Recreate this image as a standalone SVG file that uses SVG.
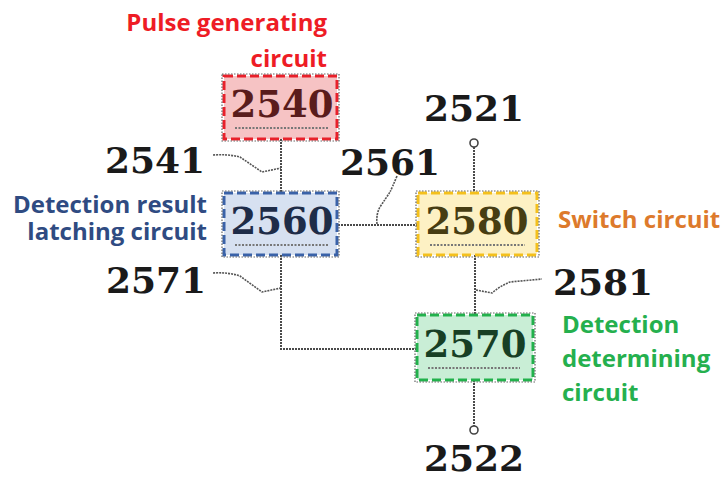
<svg xmlns="http://www.w3.org/2000/svg" width="727" height="478" viewBox="0 0 727 478">
<style>
.num{font-family:"DejaVu Serif",serif;font-weight:bold;font-size:36px;text-anchor:middle;fill:#1a1a1a}
.bnum{font-family:"DejaVu Serif",serif;font-weight:bold;font-size:37px;text-anchor:middle}
.lbl{font-family:"Open Sans",Lato,sans-serif;font-weight:bold;font-size:24px}
.wire{fill:none;stroke:#4a4a4a;stroke-width:2;stroke-dasharray:2 1}
.lead{fill:none;stroke:#555;stroke-width:1.6;stroke-dasharray:2 1}
.frame{fill:none;stroke:#666;stroke-width:1.2;stroke-dasharray:1.5 1.5}
.ul{stroke:#777;stroke-width:2;stroke-dasharray:2 1.5}
</style>
<rect width="727" height="478" fill="#fff"/>
<g id="connectors">
<line class="wire" x1="281" y1="139" x2="281" y2="193"/>
<line class="wire" x1="338" y1="225" x2="418" y2="225"/>
<polyline class="wire" points="281,255 281,349 417,349"/>
<line class="wire" x1="474" y1="147" x2="474" y2="193"/>
<line class="wire" x1="475" y1="255" x2="475" y2="315"/>
<line class="wire" x1="474" y1="380" x2="474" y2="426"/>
<circle cx="474" cy="143" r="4" fill="#fff" stroke="#444" stroke-width="1.6"/>
<circle cx="474" cy="430" r="4" fill="#fff" stroke="#444" stroke-width="1.6"/>
<path class="lead" d="M213,155 Q228,154 240,157 L262,172 L281,168"/>
<path class="lead" d="M397,176 Q392,188 390,192 Q386,198 380,207 Q376,214 377,224"/>
<path class="lead" d="M213,273 Q228,272 240,276 L262,292 L281,288"/>
<path class="lead" d="M476,290 L492,293 Q500,286 510,282 L542,279"/>
</g>
<g id="n2540">
<rect x="224" y="76" width="113" height="63" fill="#f6c3c4" stroke="#e8202a" stroke-width="3" stroke-dasharray="9 4"/>
<rect class="frame" x="222" y="74" width="117" height="67"/>
<text class="bnum" x="282" y="117" fill="#5a1c1c">2540</text>
<line class="ul" x1="235" y1="128" x2="328" y2="128"/>
</g>
<g id="n2560">
<rect x="224" y="193" width="113" height="62" fill="#d7e1f1" stroke="#3a62a8" stroke-width="3" stroke-dasharray="9 4"/>
<rect class="frame" x="222" y="191" width="117" height="66"/>
<text class="bnum" x="282" y="234" fill="#1e2c48">2560</text>
<line class="ul" x1="235" y1="245" x2="328" y2="245"/>
</g>
<g id="n2580">
<rect x="418" y="193" width="119" height="62" fill="#fdf1c4" stroke="#f4c01c" stroke-width="3" stroke-dasharray="9 4"/>
<rect class="frame" x="416" y="191" width="123" height="66"/>
<text class="bnum" x="477" y="234" fill="#473d12">2580</text>
<line class="ul" x1="430" y1="245" x2="525" y2="245"/>
</g>
<g id="n2570">
<rect x="417" y="315" width="116" height="65" fill="#c9eed6" stroke="#22b14c" stroke-width="3" stroke-dasharray="9 4"/>
<rect class="frame" x="415" y="313" width="120" height="69"/>
<text class="bnum" x="475" y="357" fill="#173f25">2570</text>
<line class="ul" x1="428" y1="368" x2="520" y2="368"/>
</g>
<g id="labels">
<text class="num" x="155" y="173">2541</text>
<text class="num" x="390" y="175">2561</text>
<text class="num" x="156" y="293">2571</text>
<text class="num" x="603" y="295">2581</text>
<text class="num" x="474" y="121">2521</text>
<text class="num" x="474" y="471">2522</text>
<text class="lbl" x="327" y="31" fill="#ee1c25" text-anchor="end">Pulse generating</text>
<text class="lbl" x="327" y="67" fill="#ee1c25" text-anchor="end">circuit</text>
<text class="lbl" x="207" y="213" fill="#2f4b82" text-anchor="end">Detection result</text>
<text class="lbl" x="207" y="240" fill="#2f4b82" text-anchor="end">latching circuit</text>
<text class="lbl" x="558" y="228" fill="#dd7a2c">Switch circuit</text>
<text class="lbl" x="562" y="333" fill="#25b04e">Detection</text>
<text class="lbl" x="562" y="367" fill="#25b04e">determining</text>
<text class="lbl" x="562" y="401" fill="#25b04e">circuit</text>
</g>
</svg>
